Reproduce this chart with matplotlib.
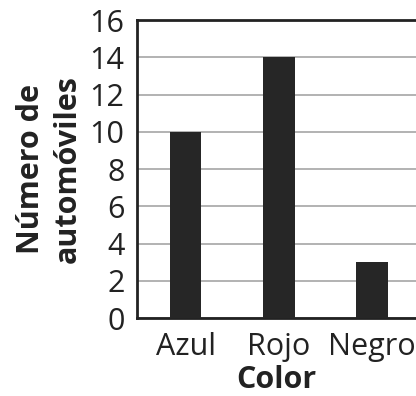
import matplotlib
matplotlib.use("Agg")
import matplotlib.pyplot as plt

plt.rcParams['font.family'] = ['Open Sans', 'DejaVu Sans']

colores = ['Azul', 'Rojo', 'Negro']
autos = [10, 14, 3]
yticks = [0, 2, 4, 6, 8, 10, 12, 14, 16]

fig = plt.figure(figsize=(4.16, 3.96), dpi=100)
ax = fig.add_axes([137/416, 78/396, 1 - 137/416, 298/396])

ax.bar(range(len(colores)), autos, width=0.34, color='#262626', zorder=3)
ax.set_xlim(-0.52, 2.47)
ax.set_ylim(0, 16)
ax.set_yticks(yticks)
ax.set_xticks(range(len(colores)))
ax.set_xticklabels(colores)
ax.yaxis.grid(True, color='#a6a6a6', linewidth=1.2, zorder=0)
ax.tick_params(length=0, labelsize=22, colors='#222222')
ax.tick_params(axis='x', pad=10)
ax.tick_params(axis='y', pad=9)
for s in ['left', 'bottom', 'top']:
    ax.spines[s].set_linewidth(2)
    ax.spines[s].set_color('#222222')
ax.spines['right'].set_visible(False)

ax.set_xlabel('Color', fontsize=22, fontweight='bold', color='#222222', labelpad=2)
ax.set_ylabel('Número de\nautomóviles', fontsize=22, fontweight='bold', color='#222222',
              labelpad=5, linespacing=1.3)

fig.savefig('out.png', dpi=100)
